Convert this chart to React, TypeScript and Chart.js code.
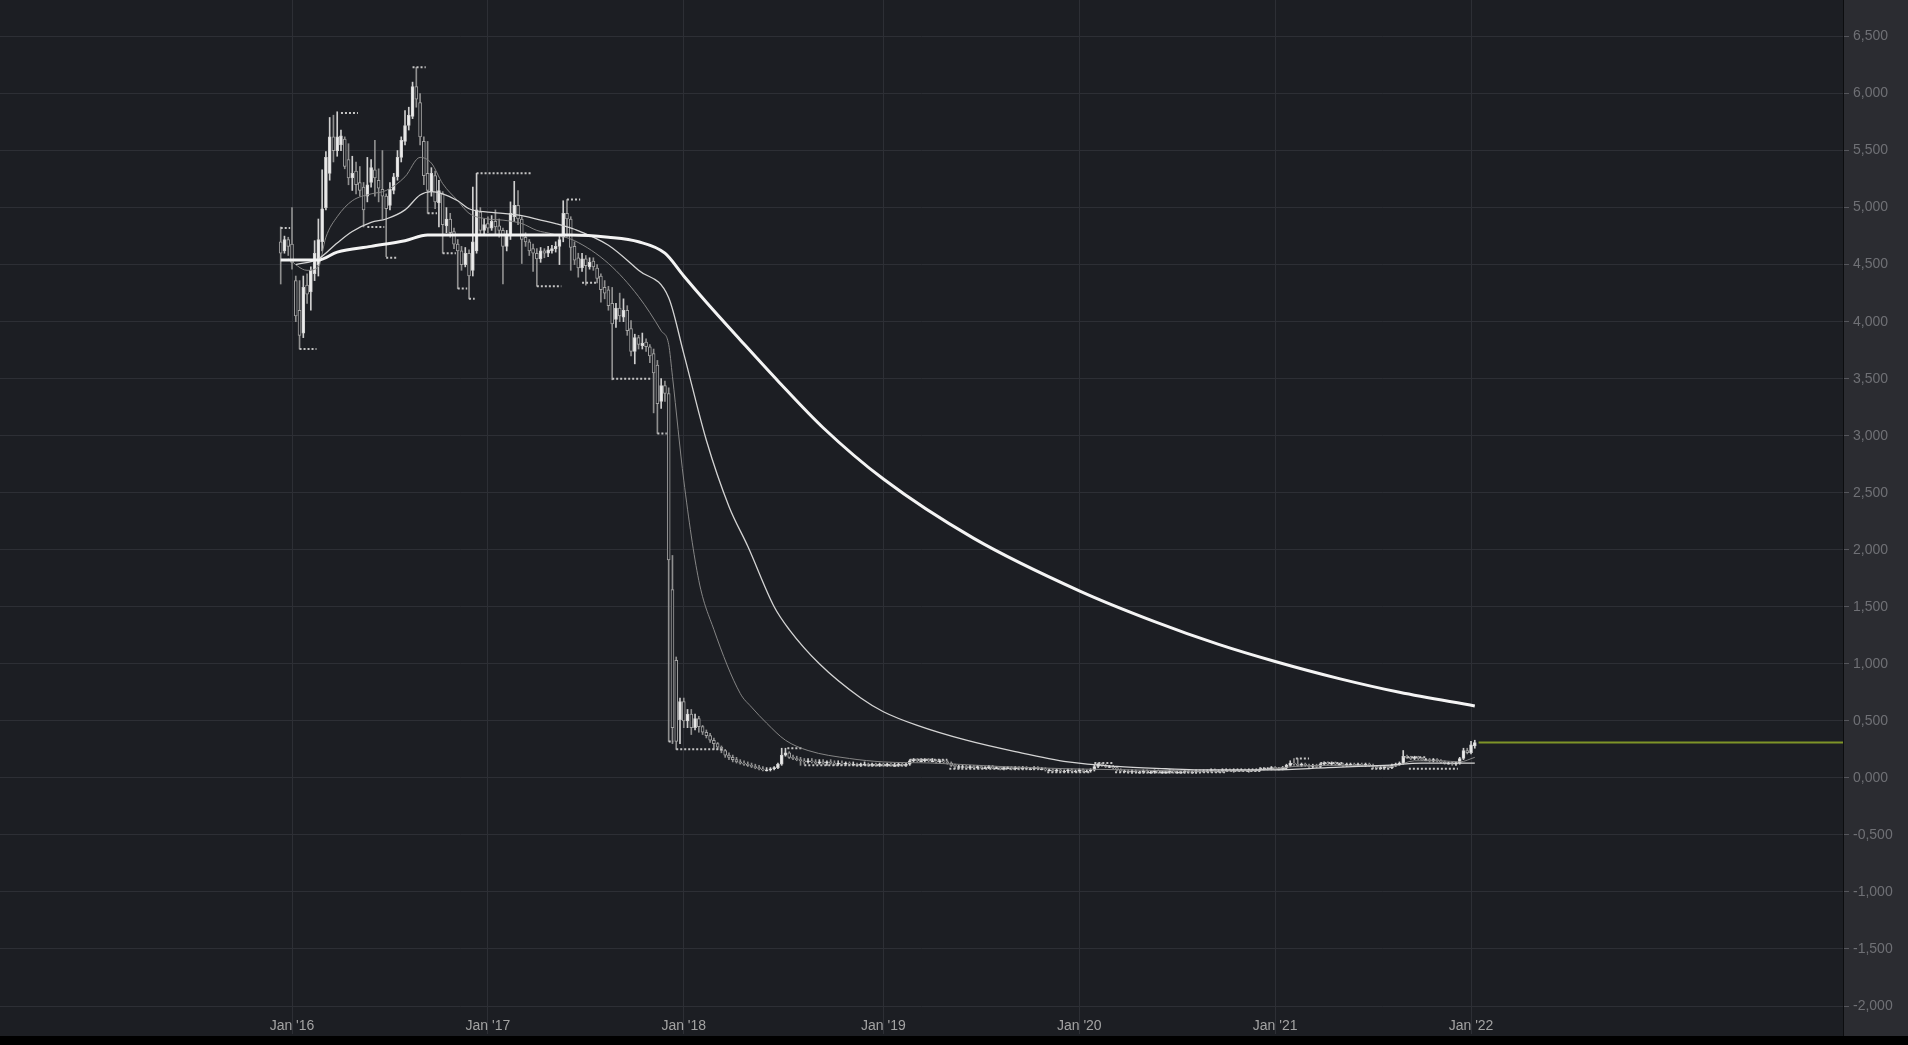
import React, { useEffect, useRef } from "react";
import { Chart, registerables } from "chart.js";

Chart.register(...registerables);

// Weekly candles. Week 0 = first weekly bar of January 2016.
const FIRST_WEEK = -3;

const opens = [
  4.70, 4.62, 4.72, 4.68, 4.36, 4.10, 3.90, 4.32, 4.26, 4.42,
  4.50, 4.70, 5.00, 5.30, 5.62, 5.50, 5.55, 5.60, 5.42, 5.26,
  5.32, 5.22, 5.18, 5.10, 5.22, 5.33, 5.24, 5.16, 5.10, 5.02,
  5.15, 5.27, 5.44, 5.58, 5.72, 5.80, 6.06, 5.92, 5.58, 5.30,
  5.14, 5.28, 5.04, 5.12, 4.84, 4.90, 4.79, 4.68, 4.62, 4.50,
  4.60, 4.45, 4.62, 4.96, 4.80, 4.86, 4.82, 4.88, 4.84, 4.80,
  4.66, 4.76, 4.92, 5.02, 4.90, 4.74, 4.70, 4.64, 4.60, 4.55,
  4.62, 4.60, 4.62, 4.64, 4.66, 4.74, 4.95, 4.90, 4.66, 4.56,
  4.47, 4.55, 4.48, 4.53, 4.47, 4.40, 4.30, 4.28, 4.16, 4.02,
  4.12, 4.04, 4.10, 3.94, 3.74, 3.86, 3.79, 3.82, 3.78, 3.72,
  3.62, 3.30, 3.44, 3.37, 1.65, 1.03, 0.51, 0.67, 0.50, 0.56,
  0.44, 0.52, 0.45, 0.40, 0.37, 0.33, 0.30, 0.27, 0.24, 0.20,
  0.18, 0.16, 0.14, 0.13, 0.12, 0.11, 0.10, 0.09, 0.08, 0.07,
  0.07, 0.08, 0.09, 0.12, 0.20, 0.22, 0.18, 0.17, 0.16, 0.15,
  0.14, 0.15, 0.14, 0.13, 0.14, 0.13, 0.14, 0.13, 0.12, 0.13,
  0.12, 0.13, 0.12, 0.12, 0.11, 0.12, 0.12, 0.11, 0.12, 0.11,
  0.12, 0.11, 0.12, 0.11, 0.11, 0.12, 0.11, 0.12, 0.15, 0.16,
  0.15, 0.15, 0.16, 0.15, 0.15, 0.14, 0.15, 0.14, 0.13, 0.11,
  0.10, 0.10, 0.10, 0.09, 0.10, 0.09, 0.10, 0.09, 0.09, 0.10,
  0.09, 0.09, 0.08, 0.09, 0.09, 0.08, 0.09, 0.08, 0.09, 0.08,
  0.08, 0.09, 0.08, 0.08, 0.07, 0.07, 0.06, 0.07, 0.06, 0.06,
  0.07, 0.06, 0.06, 0.07, 0.06, 0.06, 0.07, 0.10, 0.12, 0.11,
  0.10, 0.10, 0.09, 0.07, 0.06, 0.06, 0.05, 0.06, 0.05, 0.05,
  0.06, 0.05, 0.05, 0.06, 0.05, 0.05, 0.05, 0.06, 0.05, 0.05,
  0.05, 0.06, 0.05, 0.05, 0.06, 0.05, 0.06, 0.06, 0.07, 0.06,
  0.06, 0.07, 0.07, 0.06, 0.07, 0.07, 0.07, 0.06, 0.07, 0.07,
  0.07, 0.08, 0.08, 0.08, 0.09, 0.08, 0.08, 0.09, 0.11, 0.13,
  0.12, 0.11, 0.12, 0.11, 0.10, 0.11, 0.10, 0.12, 0.13, 0.12,
  0.13, 0.12, 0.12, 0.11, 0.12, 0.12, 0.11, 0.12, 0.11, 0.12,
  0.11, 0.10, 0.09, 0.09, 0.10, 0.09, 0.11, 0.12, 0.13, 0.19,
  0.18, 0.17, 0.18, 0.17, 0.16, 0.16, 0.15, 0.16, 0.15, 0.14,
  0.13, 0.13, 0.12, 0.13, 0.17, 0.24, 0.22, 0.28,
];

const highs = [
  4.83, 4.75, 4.74, 5.00, 4.40, 4.36, 4.40, 4.42, 4.48, 4.71,
  4.90, 5.33, 5.49, 5.79, 5.81, 5.84, 5.68, 5.62, 5.56, 5.45,
  5.40, 5.36, 5.22, 5.44, 5.42, 5.59, 5.34, 5.50, 5.12, 5.22,
  5.30, 5.50, 5.62, 5.85, 5.88, 6.10, 6.23, 6.00, 5.62, 5.58,
  5.35, 5.32, 5.24, 5.14, 5.00, 4.95, 4.82, 4.72, 4.66, 4.65,
  4.63, 5.18, 5.30, 5.00, 4.90, 4.92, 4.93, 4.98, 4.90, 4.82,
  4.80, 5.05, 5.23, 5.15, 4.92, 4.78, 4.72, 4.68, 4.64, 4.65,
  4.64, 4.66, 4.67, 4.70, 4.76, 5.06, 5.07, 4.92, 4.70, 4.60,
  4.60, 4.58, 4.56, 4.56, 4.50, 4.42, 4.36, 4.31, 4.30, 4.16,
  4.25, 4.20, 4.14, 4.01, 3.89, 3.88, 3.90, 3.85, 3.80, 3.76,
  3.66, 3.50, 3.48, 3.42, 1.95, 1.06, 0.70, 0.70, 0.60, 0.60,
  0.56, 0.54, 0.46, 0.42, 0.39, 0.35, 0.31, 0.28, 0.25, 0.22,
  0.20, 0.18, 0.16, 0.15, 0.14, 0.13, 0.12, 0.11, 0.10, 0.09,
  0.09, 0.10, 0.13, 0.26, 0.26, 0.23, 0.20, 0.19, 0.18, 0.17,
  0.17, 0.17, 0.16, 0.16, 0.16, 0.15, 0.16, 0.15, 0.15, 0.15,
  0.14, 0.14, 0.14, 0.13, 0.13, 0.14, 0.13, 0.13, 0.13, 0.13,
  0.13, 0.13, 0.13, 0.13, 0.13, 0.13, 0.13, 0.16, 0.17, 0.17,
  0.17, 0.17, 0.17, 0.17, 0.16, 0.16, 0.16, 0.15, 0.14, 0.12,
  0.11, 0.11, 0.11, 0.11, 0.11, 0.11, 0.11, 0.10, 0.11, 0.11,
  0.10, 0.10, 0.10, 0.10, 0.10, 0.10, 0.10, 0.10, 0.10, 0.09,
  0.10, 0.10, 0.09, 0.09, 0.08, 0.08, 0.08, 0.08, 0.07, 0.08,
  0.08, 0.07, 0.08, 0.08, 0.07, 0.08, 0.11, 0.13, 0.13, 0.12,
  0.11, 0.11, 0.10, 0.08, 0.07, 0.07, 0.07, 0.07, 0.06, 0.07,
  0.07, 0.06, 0.07, 0.07, 0.06, 0.06, 0.07, 0.07, 0.06, 0.06,
  0.07, 0.07, 0.06, 0.07, 0.07, 0.07, 0.07, 0.08, 0.08, 0.07,
  0.08, 0.08, 0.08, 0.08, 0.08, 0.08, 0.08, 0.08, 0.08, 0.08,
  0.09, 0.09, 0.09, 0.10, 0.10, 0.09, 0.10, 0.12, 0.15, 0.17,
  0.17, 0.13, 0.13, 0.12, 0.12, 0.12, 0.13, 0.14, 0.14, 0.14,
  0.14, 0.13, 0.13, 0.13, 0.13, 0.13, 0.13, 0.13, 0.13, 0.13,
  0.12, 0.11, 0.10, 0.11, 0.11, 0.12, 0.13, 0.14, 0.24, 0.20,
  0.19, 0.19, 0.19, 0.18, 0.17, 0.17, 0.17, 0.17, 0.16, 0.15,
  0.14, 0.14, 0.14, 0.18, 0.26, 0.26, 0.32, 0.33,
];

const lows = [
  4.33, 4.60, 4.58, 4.46, 4.00, 3.76, 3.86, 4.16, 4.10, 4.36,
  4.40, 4.62, 4.98, 5.24, 5.40, 5.45, 5.50, 5.34, 5.20, 5.15,
  5.12, 5.10, 4.83, 5.05, 5.18, 5.10, 5.05, 4.90, 4.57, 4.98,
  5.12, 5.24, 5.40, 5.55, 5.68, 5.78, 5.88, 5.55, 5.20, 4.95,
  5.10, 4.99, 4.83, 4.60, 4.78, 4.74, 4.64, 4.29, 4.45, 4.48,
  4.20, 4.40, 4.60, 4.76, 4.76, 4.78, 4.80, 4.76, 4.74, 4.33,
  4.62, 4.72, 4.88, 4.85, 4.51, 4.66, 4.58, 4.44, 4.31, 4.52,
  4.56, 4.57, 4.60, 4.61, 4.50, 4.70, 4.75, 4.45, 4.50, 4.39,
  4.44, 4.32, 4.46, 4.45, 4.34, 4.17, 4.20, 4.10, 3.49, 3.95,
  4.00, 4.00, 3.88, 3.70, 3.63, 3.76, 3.76, 3.74, 3.64, 3.20,
  3.02, 3.24, 3.30, 0.32, 0.30, 0.25, 0.30, 0.44, 0.44, 0.38,
  0.42, 0.40, 0.38, 0.35, 0.31, 0.25, 0.25, 0.22, 0.18, 0.16,
  0.14, 0.13, 0.12, 0.11, 0.10, 0.09, 0.08, 0.07, 0.06, 0.06,
  0.06, 0.07, 0.08, 0.11, 0.19, 0.17, 0.16, 0.15, 0.11, 0.12,
  0.13, 0.13, 0.12, 0.12, 0.12, 0.11, 0.12, 0.11, 0.11, 0.11,
  0.11, 0.11, 0.11, 0.10, 0.10, 0.11, 0.10, 0.10, 0.10, 0.10,
  0.10, 0.10, 0.10, 0.10, 0.10, 0.10, 0.10, 0.11, 0.14, 0.14,
  0.14, 0.14, 0.14, 0.14, 0.13, 0.13, 0.13, 0.12, 0.10, 0.08,
  0.08, 0.09, 0.08, 0.08, 0.08, 0.08, 0.08, 0.08, 0.08, 0.08,
  0.08, 0.07, 0.07, 0.08, 0.07, 0.07, 0.07, 0.07, 0.07, 0.07,
  0.07, 0.07, 0.07, 0.06, 0.06, 0.05, 0.05, 0.05, 0.05, 0.05,
  0.05, 0.05, 0.05, 0.05, 0.05, 0.05, 0.06, 0.09, 0.10, 0.09,
  0.09, 0.08, 0.06, 0.05, 0.05, 0.04, 0.04, 0.04, 0.04, 0.04,
  0.04, 0.04, 0.04, 0.04, 0.04, 0.04, 0.04, 0.04, 0.04, 0.04,
  0.04, 0.04, 0.04, 0.04, 0.04, 0.05, 0.05, 0.05, 0.05, 0.05,
  0.05, 0.06, 0.06, 0.05, 0.06, 0.06, 0.06, 0.05, 0.06, 0.06,
  0.06, 0.07, 0.07, 0.07, 0.07, 0.07, 0.07, 0.08, 0.10, 0.11,
  0.10, 0.10, 0.10, 0.09, 0.09, 0.09, 0.09, 0.11, 0.11, 0.11,
  0.11, 0.11, 0.10, 0.10, 0.11, 0.10, 0.10, 0.10, 0.10, 0.10,
  0.08, 0.08, 0.08, 0.08, 0.08, 0.08, 0.10, 0.11, 0.12, 0.17,
  0.16, 0.16, 0.16, 0.15, 0.15, 0.14, 0.14, 0.14, 0.13, 0.12,
  0.12, 0.11, 0.11, 0.12, 0.16, 0.21, 0.21, 0.26,
];

const closes = [
  4.60, 4.72, 4.66, 4.52, 4.05, 3.88, 4.30, 4.24, 4.45, 4.60,
  4.72, 4.99, 5.44, 5.62, 5.50, 5.62, 5.63, 5.36, 5.26, 5.30,
  5.20, 5.15, 4.98, 5.20, 5.35, 5.26, 5.17, 5.10, 4.99, 5.16,
  5.27, 5.44, 5.59, 5.72, 5.81, 6.06, 5.95, 5.62, 5.28, 5.15,
  5.30, 5.05, 5.15, 4.85, 4.90, 4.78, 4.68, 4.62, 4.50, 4.60,
  4.40, 4.70, 4.98, 4.80, 4.85, 4.82, 4.88, 4.83, 4.80, 4.66,
  4.75, 4.95, 5.02, 4.90, 4.72, 4.70, 4.62, 4.60, 4.55, 4.62,
  4.60, 4.63, 4.64, 4.66, 4.72, 4.95, 4.90, 4.65, 4.54, 4.47,
  4.55, 4.49, 4.52, 4.48, 4.38, 4.28, 4.25, 4.14, 3.98, 4.12,
  4.05, 4.10, 3.92, 3.74, 3.86, 3.80, 3.81, 3.78, 3.70, 3.55,
  3.28, 3.44, 3.37, 1.91, 0.44, 0.32, 0.67, 0.50, 0.56, 0.44,
  0.52, 0.45, 0.40, 0.37, 0.33, 0.30, 0.27, 0.24, 0.20, 0.18,
  0.16, 0.14, 0.13, 0.12, 0.11, 0.10, 0.09, 0.08, 0.07, 0.07,
  0.08, 0.09, 0.12, 0.20, 0.22, 0.18, 0.17, 0.16, 0.15, 0.14,
  0.15, 0.14, 0.13, 0.14, 0.13, 0.14, 0.13, 0.12, 0.13, 0.12,
  0.13, 0.12, 0.12, 0.11, 0.12, 0.12, 0.11, 0.12, 0.11, 0.12,
  0.11, 0.12, 0.11, 0.11, 0.12, 0.11, 0.12, 0.15, 0.16, 0.15,
  0.15, 0.16, 0.15, 0.15, 0.14, 0.15, 0.14, 0.13, 0.11, 0.10,
  0.10, 0.10, 0.09, 0.10, 0.09, 0.10, 0.09, 0.09, 0.10, 0.09,
  0.09, 0.08, 0.09, 0.09, 0.08, 0.09, 0.08, 0.09, 0.08, 0.08,
  0.09, 0.08, 0.08, 0.07, 0.07, 0.06, 0.07, 0.06, 0.06, 0.07,
  0.06, 0.06, 0.07, 0.06, 0.06, 0.07, 0.10, 0.12, 0.11, 0.10,
  0.10, 0.09, 0.07, 0.06, 0.06, 0.05, 0.06, 0.05, 0.05, 0.06,
  0.05, 0.05, 0.06, 0.05, 0.05, 0.05, 0.06, 0.05, 0.05, 0.05,
  0.06, 0.05, 0.05, 0.06, 0.05, 0.06, 0.06, 0.07, 0.06, 0.06,
  0.07, 0.07, 0.06, 0.07, 0.07, 0.07, 0.06, 0.07, 0.07, 0.07,
  0.08, 0.08, 0.08, 0.09, 0.08, 0.08, 0.09, 0.11, 0.13, 0.12,
  0.11, 0.12, 0.11, 0.10, 0.11, 0.10, 0.12, 0.13, 0.12, 0.13,
  0.12, 0.12, 0.11, 0.12, 0.12, 0.11, 0.12, 0.11, 0.12, 0.11,
  0.10, 0.09, 0.09, 0.10, 0.09, 0.11, 0.12, 0.13, 0.19, 0.18,
  0.17, 0.18, 0.17, 0.16, 0.16, 0.15, 0.16, 0.15, 0.14, 0.13,
  0.13, 0.12, 0.13, 0.17, 0.24, 0.22, 0.29, 0.31,
];

// Moving averages (at sample weeks)
const ma20Weeks = [-1, 4, 7, 9, 12, 16, 21, 25, 30, 34, 37, 40, 44, 47, 52, 56, 61, 65, 69, 75, 84, 92, 98, 100, 101, 104, 108, 112, 119, 122, 126, 131, 137, 148, 157, 170, 188, 206, 223, 240, 258, 266, 275, 285, 292, 298, 305, 310, 314];
const ma20Vals = [4.55, 4.45, 4.48, 4.74, 4.92, 5.06, 5.12, 5.15, 5.27, 5.44, 5.39, 5.21, 5.06, 4.95, 4.90, 4.89, 4.86, 4.80, 4.77, 4.71, 4.51, 4.22, 3.92, 3.80, 3.52, 2.61, 1.73, 1.30, 0.74, 0.62, 0.48, 0.33, 0.24, 0.17, 0.14, 0.13, 0.10, 0.08, 0.07, 0.06, 0.07, 0.10, 0.11, 0.11, 0.10, 0.15, 0.15, 0.14, 0.18];

const ma50Weeks = [1, 7, 12, 16, 21, 25, 30, 34, 37, 40, 44, 47, 52, 56, 61, 66, 70, 75, 84, 92, 100, 104, 110, 116, 121, 128, 132, 140, 151, 157, 166, 179, 192, 206, 219, 232, 241, 260, 275, 290, 300, 314];
const ma50Vals = [4.50, 4.55, 4.69, 4.79, 4.87, 4.90, 4.98, 5.11, 5.14, 5.12, 5.06, 4.99, 4.96, 4.95, 4.93, 4.89, 4.86, 4.81, 4.67, 4.45, 4.21, 3.72, 2.96, 2.38, 2.03, 1.50, 1.30, 1.00, 0.70, 0.58, 0.46, 0.33, 0.23, 0.14, 0.10, 0.08, 0.07, 0.07, 0.09, 0.11, 0.13, 0.13];

const ma200Weeks = [-3, 7, 12, 21, 30, 36, 47, 74, 84, 92, 99, 104, 110, 119, 129, 141, 157, 181, 209, 229, 246, 261, 278, 294, 314];
const ma200Vals = [4.54, 4.54, 4.61, 4.66, 4.71, 4.76, 4.76, 4.76, 4.74, 4.70, 4.60, 4.40, 4.17, 3.84, 3.48, 3.07, 2.62, 2.10, 1.64, 1.37, 1.17, 1.02, 0.87, 0.75, 0.63];

// Dotted pivot levels: start week, end week, level
const levelStarts = [-3, 2, 13, 20, 25, 32, 36, 40, 44, 47, 49, 65, 73, 77, 85, 97, 100, 102, 131.5, 136, 164, 174.5, 200.5, 213, 218.5, 248, 257, 266.5, 273, 286.5, 295, 296.5];
const levelEnds = [-0.5, 6.5, 17.5, 24.5, 28, 35.5, 38.5, 43.5, 46.5, 48.5, 63.5, 71.5, 76.5, 81, 95.5, 99.5, 101.2, 114.5, 135.5, 163, 174, 199.5, 212, 218, 248, 257, 264, 270, 279, 291.5, 301, 309.5];
const levelValues = [4.82, 3.76, 5.83, 4.83, 4.56, 6.23, 4.95, 4.60, 4.29, 4.20, 5.30, 4.31, 5.07, 4.34, 3.50, 3.02, 0.32, 0.25, 0.26, 0.11, 0.16, 0.08, 0.05, 0.13, 0.05, 0.06, 0.08, 0.17, 0.13, 0.08, 0.18, 0.08];

const lastPrice = 0.31;
const lastPriceFromWeek = 315;

const janWeeks = [0, 52, 104, 157, 209, 261, 313];
const janLabels = ["Jan '16", "Jan '17", "Jan '18", "Jan '19", "Jan '20", "Jan '21", "Jan '22"];
const yTickValues = [-2, -1.5, -1, -0.5, 0, 0.5, 1, 1.5, 2, 2.5, 3, 3.5, 4, 4.5, 5, 5.5, 6, 6.5];

const X_MIN = -77.52;
const X_MAX = 411.75;
const Y_MIN = -2;
const Y_MAX = 6.82;

const PLOT_BG = "#1c1e23";
const PANEL_BG = "#2b2c31";
const GRID = "#2d2f35";
const FONT = "Liberation Sans";

const bgPlugin = {
  id: "bgPanels",
  beforeDraw(chart: any) {
    const { ctx, width, height, chartArea } = chart;
    ctx.save();
    ctx.fillStyle = PLOT_BG;
    ctx.fillRect(0, 0, width, height);
    ctx.fillStyle = PANEL_BG;
    ctx.fillRect(chartArea.right, 0, width - chartArea.right, height);
    ctx.restore();
  },
  afterDraw(chart: any) {
    const { ctx, height, chartArea } = chart;
    ctx.save();
    ctx.fillStyle = "#0c0d0f";
    ctx.fillRect(Math.round(chartArea.right), 0, 1, height);
    ctx.restore();
  },
};

export default function App() {
  const ref = useRef<HTMLCanvasElement>(null);

  useEffect(() => {
    const canvas = ref.current;
    if (!canvas) return;
    const weeks = opens.map((_, k) => FIRST_WEEK + k);
    const up = (k: number) => closes[k] >= opens[k];

    const wickData = weeks.map((w, k) => ({ x: w, y: [lows[k], highs[k]] }));
    const bodyData = weeks.map((w, k) => ({ x: w, y: [opens[k], closes[k]] }));

    const levelData: any[] = [];
    levelStarts.forEach((s, k) => {
      levelData.push({ x: s, y: levelValues[k] });
      levelData.push({ x: levelEnds[k], y: levelValues[k] });
      levelData.push({ x: levelEnds[k] + 0.01, y: null });
    });

    const toPts = (ws: number[], vs: number[]) => ws.map((w, k) => ({ x: w, y: vs[k] }));

    const chart = new Chart(canvas, {
      type: "bar",
      data: {
        datasets: [
          {
            type: "bar",
            label: "wicks",
            data: wickData as any,
            grouped: false,
            barThickness: 1,
            maxBarThickness: 1,
            backgroundColor: (c: any) => (up(c.dataIndex) ? "#cfcfcf" : "#8f8f8f"),
            borderWidth: 0,
            order: 6,
          },
          {
            type: "bar",
            label: "bodies",
            data: bodyData as any,
            grouped: false,
            barThickness: 3,
            maxBarThickness: 3,
            minBarLength: 1,
            backgroundColor: (c: any) => (up(c.dataIndex) ? "#ececec" : PLOT_BG),
            borderColor: (c: any) => (up(c.dataIndex) ? "#d2d2d2" : "#a2a2a2"),
            borderWidth: 1,
            borderSkipped: false,
            order: 5,
          },
          {
            type: "line",
            label: "levels",
            data: levelData,
            borderColor: "#c4c4c4",
            borderWidth: 2,
            borderDash: [2, 2],
            pointRadius: 0,
            spanGaps: false,
            order: 4,
          },
          {
            type: "line",
            label: "MA20",
            data: toPts(ma20Weeks, ma20Vals),
            borderColor: "#858585",
            borderWidth: 1,
            pointRadius: 0,
            cubicInterpolationMode: "monotone",
            order: 3,
          },
          {
            type: "line",
            label: "MA50",
            data: toPts(ma50Weeks, ma50Vals),
            borderColor: "#d4d4d4",
            borderWidth: 1.3,
            pointRadius: 0,
            cubicInterpolationMode: "monotone",
            order: 2,
          },
          {
            type: "line",
            label: "MA200",
            data: toPts(ma200Weeks, ma200Vals),
            borderColor: "#f4f4f4",
            borderWidth: 3,
            pointRadius: 0,
            cubicInterpolationMode: "monotone",
            order: 1,
          },
          {
            type: "line",
            label: "last",
            data: [
              { x: lastPriceFromWeek, y: lastPrice },
              { x: X_MAX, y: lastPrice },
            ],
            borderColor: "#7e9428",
            borderWidth: 2,
            pointRadius: 0,
            order: 0,
          },
        ] as any,
      },
      options: {
        responsive: false,
        animation: false,
        devicePixelRatio: 1,
        events: [],
        layout: { padding: 0 },
        plugins: { legend: { display: false }, tooltip: { enabled: false } },
        scales: {
          x: {
            type: "linear",
            min: X_MIN,
            max: X_MAX,
            offset: false,
            afterBuildTicks: (s: any) => {
              s.ticks = janWeeks.map((v) => ({ value: v }));
            },
            afterFit: (s: any) => {
              s.height = 30;
              s.paddingLeft = 0;
              s.paddingRight = 0;
            },
            grid: {
              color: GRID,
              lineWidth: 1,
              drawTicks: true,
              tickLength: 28,
              tickColor: GRID,
              offset: false,
            },
            border: { display: false },
            ticks: {
              autoSkip: false,
              maxRotation: 0,
              minRotation: 0,
              padding: -16,
              color: "#a3a3a3",
              font: { family: FONT, size: 14 },
              callback: (_v: any, i: number) => janLabels[i],
            },
          },
          y: {
            type: "linear",
            position: "right",
            min: Y_MIN,
            max: Y_MAX,
            afterBuildTicks: (s: any) => {
              s.ticks = yTickValues.map((v) => ({ value: v }));
            },
            afterFit: (s: any) => {
              s.width = 65;
              s.paddingTop = 0;
              s.paddingBottom = 0;
            },
            grid: {
              color: GRID,
              lineWidth: 1,
              drawTicks: true,
              tickLength: 6,
              tickColor: "#55565c",
            },
            border: { display: false },
            ticks: {
              padding: 4,
              color: "#6f7075",
              font: { family: FONT, size: 14 },
              callback: (v: any) => Number(v).toFixed(3).replace(".", ","),
            },
          },
        },
      } as any,
      plugins: [bgPlugin],
    });
    return () => chart.destroy();
  }, []);

  return (
    <div style={{ position: "fixed", left: 0, top: 0, width: 1908, height: 1045, background: "#000" }}>
      <canvas ref={ref} width={1908} height={1036} style={{ display: "block", width: 1908, height: 1036 }} />
    </div>
  );
}
